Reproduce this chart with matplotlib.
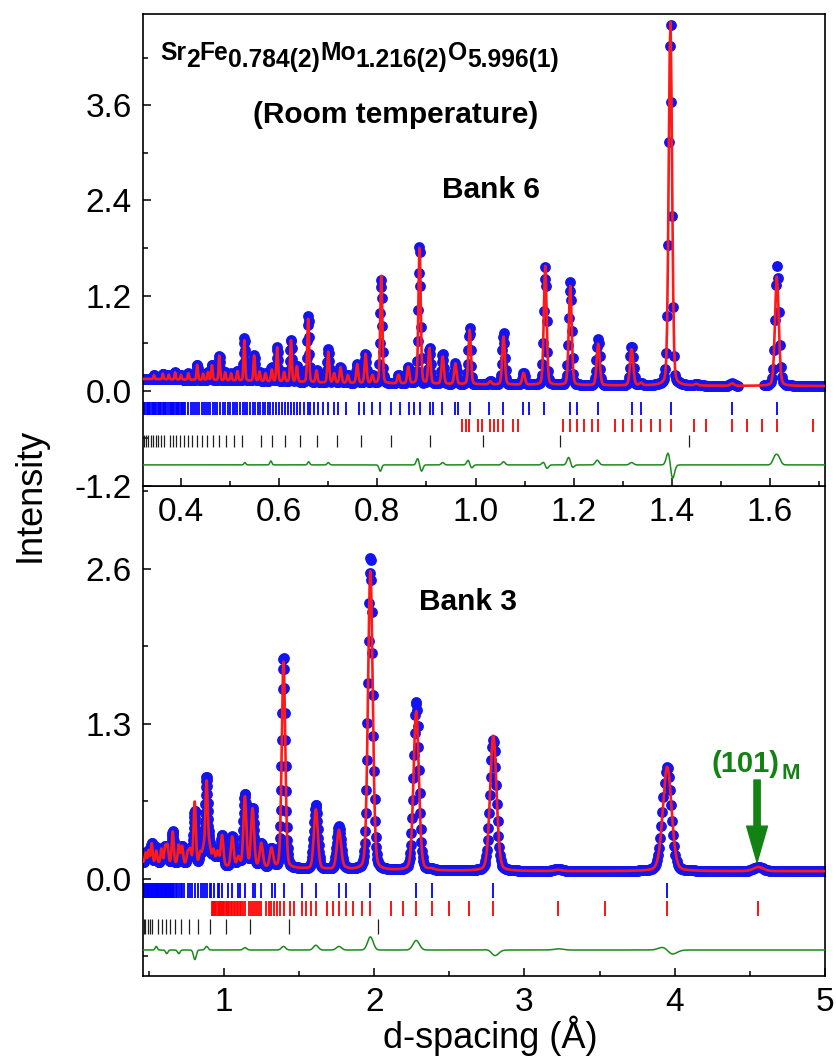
import numpy as np
import matplotlib
matplotlib.use("Agg")
import matplotlib.pyplot as plt
from matplotlib.ticker import MultipleLocator, FormatStrFormatter

plt.rcParams['font.family'] = ['Liberation Sans', 'DejaVu Sans']
plt.rcParams['axes.unicode_minus'] = False

# ------------------------------------------------------------------
# Bank 6 (top panel)
# ------------------------------------------------------------------
b6_bg_d = [0.32, 0.50, 0.70, 1.00, 1.30, 1.72]
b6_bg_i = [0.15, 0.13, 0.10, 0.08, 0.065, 0.06]

b6_peak_d = [0.345, 0.363, 0.375, 0.388, 0.400, 0.415, 0.433, 0.445, 0.455, 0.463,
             0.478, 0.490, 0.502, 0.515, 0.529, 0.549, 0.560, 0.572, 0.585, 0.596,
             0.610, 0.624, 0.636, 0.659, 0.676, 0.700, 0.712, 0.725, 0.740, 0.759,
             0.776, 0.790, 0.808, 0.843, 0.863, 0.886, 0.906, 0.933, 0.959, 0.988,
             1.030, 1.057, 1.098, 1.142, 1.193, 1.250, 1.318, 1.337, 1.397, 1.450,
             1.523, 1.614]
b6_peak_h = [0.05, 0.07, 0.06, 0.09, 0.06, 0.08, 0.19, 0.08, 0.10, 0.19,
             0.31, 0.10, 0.09, 0.12, 0.51, 0.32, 0.12, 0.10, 0.15, 0.43,
             0.12, 0.53, 0.20, 0.80, 0.15, 0.39, 0.12, 0.20, 0.10, 0.24,
             0.37, 0.10, 1.37, 0.11, 0.21, 1.75, 0.45, 0.35, 0.26, 0.69,
             0.04, 0.61, 0.15, 1.50, 1.25, 0.53, 0.47, 0.03, 4.62, 0.02,
             0.03, 1.38]

b6_diff_d = [0.530, 0.583, 0.660, 0.700, 0.806, 0.882, 0.890, 0.933, 0.985, 0.992,
             1.057, 1.139, 1.145, 1.190, 1.197, 1.248, 1.318, 1.393, 1.401, 1.610, 1.617]
b6_diff_a = [0.03, 0.05, 0.04, 0.03, -0.08, 0.08, -0.08, 0.03, 0.06, -0.04,
             0.04, 0.04, -0.05, 0.10, -0.04, 0.06, 0.03, 0.17, -0.19, 0.09, 0.09]

b6_excluded = [1.535, 1.585]

b6_ticks_blue = [0.3225, 0.325, 0.3275, 0.33, 0.3325, 0.335, 0.3375, 0.34, 0.3425, 0.345,
                 0.3475, 0.35, 0.3525, 0.355, 0.3575, 0.36, 0.3625, 0.365, 0.3675, 0.37,
                 0.3725, 0.3765, 0.379, 0.3815, 0.384, 0.3865, 0.389, 0.3915, 0.394, 0.3965,
                 0.399, 0.4015, 0.404, 0.4065, 0.409,
                 0.415, 0.420, 0.424, 0.429, 0.432, 0.437, 0.442, 0.446, 0.450, 0.454,
                 0.459, 0.465, 0.469, 0.474, 0.480, 0.485, 0.490, 0.495, 0.500, 0.505,
                 0.509, 0.515, 0.520, 0.526, 0.531, 0.535, 0.541, 0.546, 0.551, 0.556,
                 0.561, 0.566, 0.571, 0.577, 0.582, 0.588, 0.594, 0.600, 0.605, 0.612,
                 0.618, 0.624, 0.631, 0.636, 0.643, 0.650, 0.658, 0.663, 0.670, 0.679,
                 0.689, 0.699, 0.712, 0.719, 0.736, 0.762, 0.773, 0.790, 0.805, 0.828,
                 0.846, 0.864, 0.874, 0.886, 0.907, 0.914, 0.932, 0.958, 0.965, 0.988,
                 1.027, 1.056, 1.097, 1.108, 1.140, 1.193, 1.206, 1.250, 1.318, 1.337,
                 1.398, 1.523, 1.614]
b6_ticks_red = [0.973, 0.980, 0.986, 1.005, 1.014, 1.029, 1.038, 1.046, 1.056, 1.076,
                1.086, 1.179, 1.193, 1.206, 1.221, 1.237, 1.250, 1.284, 1.301, 1.318,
                1.337, 1.357, 1.376, 1.398, 1.446, 1.469, 1.523, 1.553, 1.584, 1.614,
                1.687]
b6_ticks_black = [0.3250, 0.3292, 0.3336, 0.3382, 0.3430, 0.3480, 0.3533, 0.3588, 0.3645,
                  0.3769, 0.3835, 0.3906, 0.3980, 0.4059, 0.4143, 0.4232, 0.4327, 0.4429,
                  0.4538, 0.4656, 0.4783, 0.4922, 0.5074, 0.5240, 0.5629, 0.5858, 0.6119,
                  0.6418, 0.6765, 0.7175, 0.7670, 0.8285, 0.9076, 1.0147, 1.1717, 1.4350]

# ------------------------------------------------------------------
# Bank 3 (bottom panel)
# ------------------------------------------------------------------
b3_bg_d = [0.46, 0.70, 1.00, 1.50, 2.00, 3.00, 5.00]
b3_bg_i = [0.14, 0.12, 0.10, 0.085, 0.07, 0.065, 0.065]

b3_peak_d = [0.480, 0.500, 0.520, 0.550, 0.585, 0.610, 0.625, 0.660, 0.700, 0.722,
             0.760, 0.776, 0.806, 0.843, 0.863, 0.885, 0.906, 0.931, 0.958, 0.988,
             1.056, 1.097, 1.140, 1.191, 1.249, 1.317, 1.397, 1.612, 1.766, 1.812,
             1.975, 2.280, 2.382, 2.793, 3.225, 3.950, 4.557]
b3_peak_h = [0.08, 0.10, 0.16, 0.10, 0.12, 0.14, 0.15, 0.27, 0.16, 0.15,
             0.10, 0.12, 0.53, 0.10, 0.12, 0.70, 0.14, 0.13, 0.12, 0.26,
             0.25, 0.08, 0.59, 0.49, 0.20, 0.16, 1.74, 0.50, 0.33, 0.01,
             2.52, 1.34, 0.01, 1.14, 0.01, 0.88, 0.035]

b3_diff_d = [0.550, 0.620, 0.700, 0.807, 0.885, 1.140, 1.397, 1.612, 1.766, 1.975,
             2.280, 2.780, 2.800, 3.225, 3.940, 3.970]
b3_diff_a = [0.03, -0.03, -0.03, -0.08, 0.03, 0.02, 0.03, 0.04, 0.03, 0.11,
             0.08, 0.02, -0.06, 0.01, 0.05, -0.06]

b3_ticks_blue = [0.462, 0.468, 0.474, 0.480, 0.486, 0.492, 0.498, 0.504, 0.510, 0.516,
                 0.522, 0.528, 0.534, 0.540, 0.546, 0.552, 0.558, 0.564, 0.570, 0.576,
                 0.582, 0.588, 0.594, 0.600, 0.606,
                 0.612, 0.618, 0.624, 0.631, 0.636, 0.643, 0.650, 0.658, 0.663, 0.670,
                 0.679, 0.689, 0.699, 0.712, 0.719, 0.736, 0.762, 0.773, 0.790, 0.805,
                 0.828, 0.846, 0.864, 0.874, 0.886, 0.907, 0.914, 0.932, 0.958, 0.965,
                 0.988, 1.027, 1.056, 1.097, 1.108, 1.140, 1.193, 1.206, 1.250, 1.318,
                 1.337, 1.398, 1.523, 1.614, 1.766, 1.812, 1.975, 2.280, 2.382, 2.793,
                 3.950]
b3_ticks_red = [0.918, 0.925, 0.931, 0.938, 0.944, 0.951, 0.958, 0.965, 0.972, 0.980,
                0.988, 0.995, 1.003, 1.012, 1.020, 1.029, 1.037, 1.046, 1.056, 1.065,
                1.075, 1.085, 1.096, 1.106, 1.117, 1.129, 1.140, 1.165, 1.178, 1.191,
                1.205, 1.219, 1.234, 1.249, 1.282, 1.299, 1.317, 1.335, 1.355, 1.375,
                1.397, 1.442, 1.467, 1.520, 1.549, 1.580, 1.613, 1.684, 1.724, 1.766,
                1.812, 1.862, 1.916, 1.975, 2.111, 2.191, 2.280, 2.382, 2.498, 2.633,
                2.793, 3.225, 3.533, 3.950, 4.557]
b3_ticks_black = [0.4656, 0.4783, 0.4922, 0.5074, 0.5240, 0.5629, 0.5858, 0.6119, 0.6418,
                  0.6765, 0.7175, 0.7670, 0.8285, 0.9076, 1.0147, 1.1717, 1.4350, 2.0290]

# ------------------------------------------------------------------
W, H = 837, 1061
C_OBS = '#1414f0'
C_CAL = '#ff1a1a'
C_DIF = '#1a8a1a'
C_ANN = '#128212'


def calc_profile(d, bg_d, bg_i, pk_d, pk_h, fw_rel, fw_abs, eta):
    y = np.interp(d, bg_d, bg_i)
    for c, h in zip(pk_d, pk_h):
        fw = fw_rel * c + fw_abs
        u = (d - c) / fw
        y = y + h * ((1 - eta) * np.exp(-4 * np.log(2) * u * u) + eta / (1 + 4 * u * u))
    return y


def diff_profile(d, fd, fa, fw_rel, fw_abs):
    y = np.zeros_like(d)
    for c, a in zip(fd, fa):
        fw = 1.2 * (fw_rel * c + fw_abs)
        y = y + a * np.exp(-4 * np.log(2) * ((d - c) / fw) ** 2)
    return y


fig = plt.figure(figsize=(W / 100, H / 100), dpi=100)
fig.patch.set_facecolor('white')
L, R = 143, 825
ax_b = fig.add_axes([L / W, 1 - 976 / H, (R - L) / W, (976 - 486) / H])
ax_t = fig.add_axes([L / W, 1 - 486 / H, (R - L) / W, (486 - 14) / H])
ax_t.set_zorder(3)


def draw_panel(ax, d, calc, dif, keep, diff_base, rows, ticks, tlw):
    obs = calc + dif
    ax.plot(d[keep], obs[keep], 'o', ms=7.8, color=C_OBS, mec='none', zorder=2)
    ax.plot(d, calc, '-', color=C_CAL, lw=1.9, zorder=3)
    ax.plot(d, diff_base + dif, '-', color=C_DIF, lw=1.1, zorder=3)
    for (y0, y1), (pos, col, lw) in zip(rows, zip(ticks, ['#0000ff', '#ff0000', '#202020'], tlw)):
        ax.vlines(pos, y0, y1, colors=col, lw=lw, zorder=2)


# top panel
d6 = np.geomspace(0.3225, 1.712, 1300)
calc6 = calc_profile(d6, b6_bg_d, b6_bg_i, b6_peak_d, b6_peak_h, 0.005, 0.001, 0.2)
dif6 = diff_profile(d6, b6_diff_d, b6_diff_a, 0.005, 0.001)
keep6 = ~((d6 > b6_excluded[0]) & (d6 < b6_excluded[1]))
draw_panel(ax_t, d6, calc6, dif6, keep6, -0.934,
           [(-0.303, -0.139), (-0.518, -0.354), (-0.707, -0.556)],
           [b6_ticks_blue, b6_ticks_red, b6_ticks_black], [1.3, 1.3, 0.9])

# bottom panel
d3 = np.geomspace(0.462, 5.0, 1300)
calc3 = calc_profile(d3, b3_bg_d, b3_bg_i, b3_peak_d, b3_peak_h, 0.016, 0.005, 0.2)
dif3 = diff_profile(d3, b3_diff_d, b3_diff_a, 0.016, 0.005)
keep3 = np.ones_like(d3, dtype=bool)
draw_panel(ax_b, d3, calc3, dif3, keep3, -0.596,
           [(-0.159, -0.034), (-0.310, -0.185), (-0.461, -0.336)],
           [b3_ticks_blue, b3_ticks_red, b3_ticks_black], [1.3, 1.3, 0.9])

# axes formatting
ax_t.set_xlim(0.3225, 1.712)
ax_t.set_ylim(-1.2, 4.75)
ax_b.set_xlim(0.462, 5.0)
ax_b.set_ylim(-0.814, 3.296)

for ax in (ax_t, ax_b):
    for s in ax.spines.values():
        s.set_linewidth(1.2)
    ax.tick_params(which='both', direction='in', top=False, right=False,
                   labelsize=24, width=1.1, pad=8)
    ax.tick_params(which='major', length=6)
    ax.tick_params(which='minor', length=3.5)

ax_t.xaxis.set_major_locator(MultipleLocator(0.2))
ax_t.xaxis.set_minor_locator(MultipleLocator(0.1))
ax_t.yaxis.set_major_locator(MultipleLocator(1.2))
ax_t.yaxis.set_minor_locator(MultipleLocator(0.6))
ax_t.xaxis.set_major_formatter(FormatStrFormatter('%.1f'))
ax_t.yaxis.set_major_formatter(FormatStrFormatter('%.1f'))

ax_b.xaxis.set_major_locator(MultipleLocator(1))
ax_b.xaxis.set_minor_locator(MultipleLocator(0.5))
ax_b.yaxis.set_major_locator(MultipleLocator(1.3))
ax_b.yaxis.set_minor_locator(MultipleLocator(0.65))
ax_b.xaxis.set_major_formatter(FormatStrFormatter('%d'))
ax_b.yaxis.set_major_formatter(FormatStrFormatter('%.1f'))

# axis labels
fig.text(30 / W, 1 - 495 / H, 'Intensity', rotation=90, ha='center', va='center', fontsize=26)
fig.text(490 / W, 1 - 1036 / H, 'd-spacing (\u00c5)', ha='center', va='center', fontsize=26)

# formula with lowered indices
renderer = fig.canvas.get_renderer()
pieces = [('Sr', 0), ('2', 7), ('Fe', 0), ('0.784(2)', 7), ('Mo', 0),
          ('1.216(2)', 7), ('O', 0), ('5.996(1)', 7)]
x = 160.0
for txt, dy in pieces:
    t = fig.text(x / W, 1 - (60 + dy) / H, txt, fontsize=17.7, fontweight='bold',
                 ha='left', va='baseline')
    x += t.get_window_extent(renderer).width

fig.text(396 / W, 1 - 115 / H, '(Room temperature)', fontsize=21.5, fontweight='bold',
         ha='center', va='center')
fig.text(491 / W, 1 - 190 / H, 'Bank 6', fontsize=21.5, fontweight='bold', ha='center', va='center')
fig.text(468 / W, 1 - 602 / H, 'Bank 3', fontsize=21.5, fontweight='bold', ha='center', va='center')

# (101)_M annotation
t = fig.text(712 / W, 1 - 772 / H, '(101)', fontsize=21, fontweight='bold', color=C_ANN,
             ha='left', va='baseline')
xe = 712 + t.get_window_extent(renderer).width
fig.text((xe + 2) / W, 1 - 779 / H, 'M', fontsize=16, fontweight='bold', color=C_ANN,
         ha='left', va='baseline')
ax_b.annotate('', xy=(4.548, 0.14), xytext=(4.548, 0.83),
              arrowprops=dict(width=4.5, headwidth=15, headlength=26, color=C_ANN, shrink=0))

fig.savefig('out.png', dpi=100)
